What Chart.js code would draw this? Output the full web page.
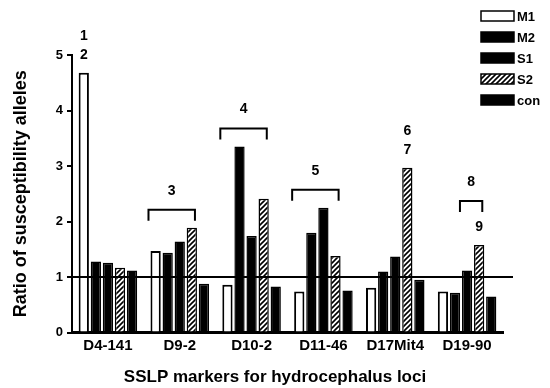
<!DOCTYPE html>
<html>
<head>
<meta charset="utf-8">
<script src="https://cdn.jsdelivr.net/npm/chart.js@4.4.1/dist/chart.umd.min.js"></script>
<style>
    html, body { margin: 0; padding: 0; background: #fff; }
</style>
</head>
<body>
<canvas id="sslpChart" width="550" height="388"></canvas>
<script>
var markers = ['D4-141', 'D9-2', 'D10-2', 'D11-46', 'D17Mit4', 'D19-90'];
var seriesNames = ['M1', 'M2', 'S1', 'S2', 'con'];
var m1Values = [4.68, 1.47, 0.86, 0.74, 0.81, 0.74];
var m2Values = [1.28, 1.44, 3.35, 1.80, 1.10, 0.72];
var s1Values = [1.26, 1.64, 1.74, 2.25, 1.37, 1.12];
var s2Values = [1.17, 1.89, 2.41, 1.38, 2.97, 1.58];
var conValues = [1.12, 0.88, 0.83, 0.76, 0.95, 0.65];
var yTicks = [0, 1, 2, 3, 4, 5];
var refLevel = 1;

// numbered notes: a bracket over a run of bars (series from..to) or digits stacked on one bar
var bracketNotes = [
    { marker: 1, from: 0, to: 3, text: '3' },
    { marker: 2, from: 0, to: 3, text: '4' },
    { marker: 3, from: 0, to: 3, text: '5' },
    { marker: 5, from: 2, to: 3, text: '8' }
];
var barNotes = [
    { marker: 0, series: 0, texts: ['1', '2'] },
    { marker: 4, series: 3, texts: ['6', '7'] },
    { marker: 5, series: 3, texts: ['9'] }
];

var FONT = '"Liberation Sans", Arial, sans-serif';

function hatchPattern() {
    var c = document.createElement('canvas');
    c.width = 5;
    c.height = 5;
    var p = c.getContext('2d');
    p.fillStyle = '#fff';
    p.fillRect(0, 0, 5, 5);
    p.strokeStyle = '#000';
    p.lineWidth = 1.6;
    p.beginPath();
    p.moveTo(-1, 6); p.lineTo(6, -1);
    p.moveTo(-1, 1); p.lineTo(1, -1);
    p.moveTo(4, 6); p.lineTo(6, 4);
    p.stroke();
    return document.getElementById('sslpChart').getContext('2d').createPattern(c, 'repeat');
}

var notesPlugin = {
    id: 'notes',
    afterDatasetsDraw: function (chart) {
        var ctx = chart.ctx;
        var area = chart.chartArea;
        ctx.save();

        // reference line at ratio 1
        var ly = chart.scales.y.getPixelForValue(refLevel);
        ctx.strokeStyle = '#000';
        ctx.lineWidth = 2;
        ctx.beginPath();
        ctx.moveTo(area.left, ly);
        ctx.lineTo(area.right + 10, ly);
        ctx.stroke();

        ctx.fillStyle = '#000';
        ctx.font = 'bold 14px ' + FONT;
        ctx.textAlign = 'center';
        ctx.textBaseline = 'middle';

        var labelTops = {};
        barNotes.forEach(function (n) {
            var bar = chart.getDatasetMeta(n.series).data[n.marker];
            var cy = bar.y - 18;
            for (var i = n.texts.length - 1; i >= 0; i--) {
                ctx.fillText(n.texts[i], bar.x, cy);
                cy -= 19;
            }
            labelTops[n.marker + ':' + n.series] = cy + 19 - 8;
        });

        bracketNotes.forEach(function (n) {
            var top = Infinity;
            for (var s = n.from; s <= n.to; s++) {
                var b = chart.getDatasetMeta(s).data[n.marker];
                top = Math.min(top, b.y);
                var key = n.marker + ':' + s;
                if (labelTops[key] !== undefined) {
                    top = Math.min(top, labelTops[key]);
                }
            }
            var first = chart.getDatasetMeta(n.from).data[n.marker];
            var last = chart.getDatasetMeta(n.to).data[n.marker];
            var left = first.x - first.width / 2 - 2;
            var right = last.x + last.width / 2 - 2;
            var by = top - 18;
            ctx.lineWidth = 2;
            ctx.beginPath();
            ctx.moveTo(left, by + 11);
            ctx.lineTo(left, by);
            ctx.lineTo(right, by);
            ctx.lineTo(right, by + 11);
            ctx.stroke();
            ctx.fillText(n.text, (left + right) / 2, by - 19);
        });
        ctx.restore();
    }
};

var sideLegend = {
    id: 'sideLegend',
    afterDraw: function (chart) {
        var ctx = chart.ctx;
        ctx.save();
        chart.data.datasets.forEach(function (ds, i) {
            var x = 481, y = 16 + i * 21;
            ctx.fillStyle = ds.backgroundColor;
            ctx.fillRect(x, y - 5, 33, 10);
            ctx.strokeStyle = '#000';
            ctx.lineWidth = 1.5;
            ctx.strokeRect(x, y - 5, 33, 10);
            ctx.fillStyle = '#000';
            ctx.font = 'bold 13px ' + FONT;
            ctx.textAlign = 'left';
            ctx.textBaseline = 'middle';
            ctx.fillText(ds.label, x + 36, y + 1);
        });
        ctx.restore();
    }
};

document.addEventListener('DOMContentLoaded', function () {
    var ctx = document.getElementById('sslpChart').getContext('2d');
    var hatch = hatchPattern();
    var values = [m1Values, m2Values, s1Values, s2Values, conValues];
    var fills = ['#fff', '#000', '#000', hatch, '#000'];

    var datasets = seriesNames.map(function (name, i) {
        return {
            label: name,
            data: values[i],
            backgroundColor: fills[i],
            borderColor: '#000',
            borderWidth: i === 0 ? 2 : 1.5,
            barPercentage: 0.85,
            categoryPercentage: 0.84
        };
    });

    new Chart(ctx, {
        type: 'bar',
        data: { labels: markers, datasets: datasets },
        options: {
            responsive: false,
            animation: false,
            layout: { padding: { top: 55, right: 0, left: 0, bottom: 0 } },
            plugins: {
                legend: { display: false },
                tooltip: { enabled: false },
                title: {
                    display: true,
                    position: 'bottom',
                    text: 'SSLP markers for hydrocephalus loci',
                    color: '#000',
                    font: { family: FONT, size: 17, weight: 'bold' },
                    padding: 0
                }
            },
            scales: {
                x: {
                    grid: { display: false, drawTicks: false },
                    border: { color: '#000', width: 3 },
                    ticks: { color: '#000', font: { family: FONT, size: 15, weight: 'bold' }, padding: 4, maxRotation: 0 },
                    afterFit: function (s) { s.height = 35; }
                },
                y: {
                    min: 0,
                    max: 5,
                    afterBuildTicks: function (s) {
                        s.ticks = yTicks.map(function (v) { return { value: v }; });
                    },
                    grid: { drawOnChartArea: false, drawTicks: true, tickLength: 5, color: '#000', lineWidth: 2 },
                    border: { color: '#000', width: 2 },
                    ticks: { color: '#000', font: { family: FONT, size: 13, weight: 'bold' }, padding: 4 },
                    title: {
                        display: true,
                        text: 'Ratio of susceptibility alleles',
                        color: '#000',
                        font: { family: FONT, size: 18, weight: 'bold' },
                        padding: { top: 10, bottom: 0 }
                    },
                    afterFit: function (s) { s.width = 72; }
                },
                // empty right-hand margin so the bottom title centres on the whole picture
                margin: {
                    position: 'right',
                    grid: { display: false, drawTicks: false },
                    border: { display: false },
                    ticks: { display: false },
                    afterFit: function (s) { s.width = 47; }
                }
            }
        },
        plugins: [notesPlugin, sideLegend]
    });
});
</script>
</body>
</html>
